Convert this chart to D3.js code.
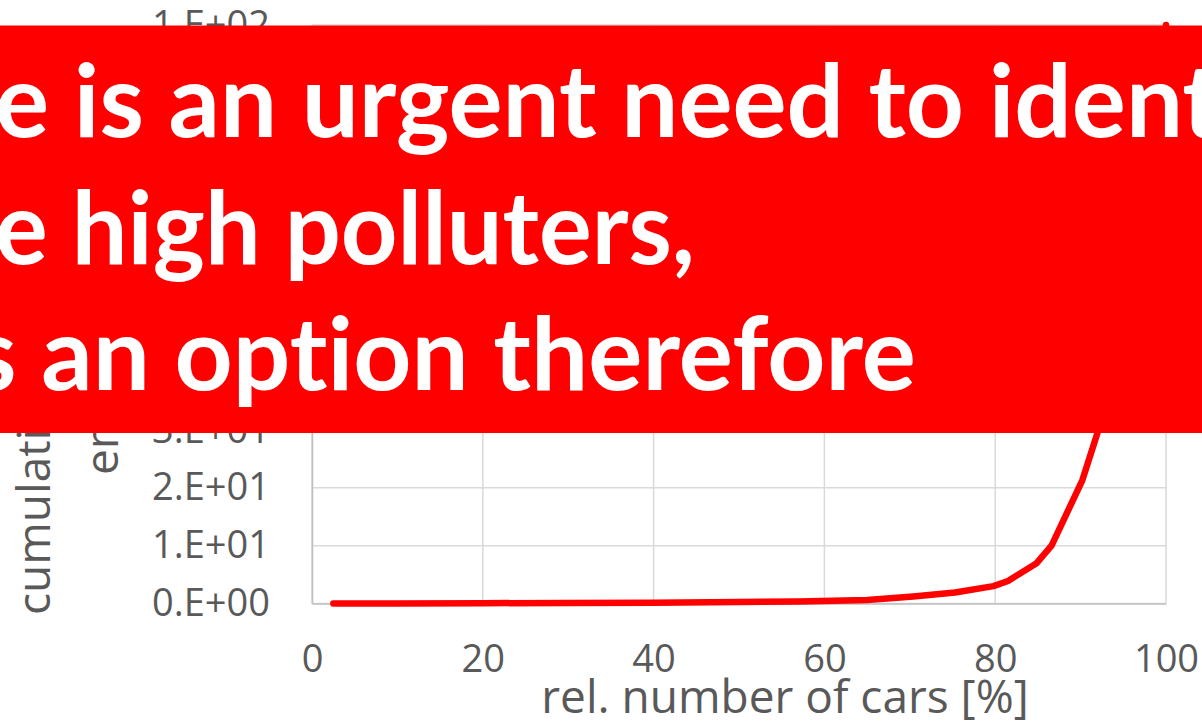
<!DOCTYPE html>
<html lang="en">
<head>
<meta charset="UTF-8">
<title>cumulative emissions</title>
<script src="https://d3js.org/d3.v7.min.js"></script>
<style>
  body { margin: 0; background: #fff; }
  svg { display: block; }
  .tick text { font-family: "Open Sans", sans-serif; fill: #595959; }
  .banner text { font-variant-ligatures: none; }
</style>
</head>
<body>
<div id="chart"></div>
<script>
// data
const carsPct = [2.5, 10, 20, 30, 40, 50, 57, 65, 70.4, 75.3, 79.8, 81.5, 84.8, 86.6, 90.2, 92.0, 94, 96, 98, 100];
const emissions = [0.0, 0.02, 0.05, 0.1, 0.15, 0.25, 0.35, 0.6, 1.2, 1.9, 3.0, 3.9, 6.9, 10.0, 21.3, 29.6, 42, 57, 75, 100];

const xTicks = [0, 20, 40, 60, 80, 100];
const yTicks = [0, 10, 20, 30, 40, 50, 60, 70, 80, 90, 100];
const yTickLabels = ["0.E+00", "1.E+01", "2.E+01", "3.E+01", "4.E+01", "5.E+01",
                     "6.E+01", "7.E+01", "8.E+01", "9.E+01", "1.E+02"];

const xTitle = "rel. number of cars [%]";
const yTitle = ["cumulative relative", "emissions [%]"];
const bannerLines = ["e is an urgent need to ident", "e high polluters,", "s an option therefore"];

const W = 1202, H = 721;
const svg = d3.select("#chart").append("svg")
    .attr("width", W)
    .attr("height", H);

const x = d3.scaleLinear().domain([0, 100]).range([312, 1166]);
const y = d3.scaleLinear().domain([0, 100]).range([603.5, 25]);

// gridlines
svg.append("g")
    .selectAll("line")
    .data(yTicks)
    .join("line")
    .attr("x1", x(0)).attr("x2", x(100))
    .attr("y1", d => y(d)).attr("y2", d => y(d))
    .attr("stroke", "#d9d9d9").attr("stroke-width", 1.5);

svg.append("g")
    .selectAll("line")
    .data(xTicks)
    .join("line")
    .attr("x1", d => x(d)).attr("x2", d => x(d))
    .attr("y1", y(0)).attr("y2", y(100))
    .attr("stroke", "#d9d9d9").attr("stroke-width", 1.5);

// axes
const xAxis = svg.append("g")
    .attr("transform", `translate(0,${y(0)})`)
    .call(d3.axisBottom(x).tickValues(xTicks).tickSize(0).tickPadding(42));
xAxis.select(".domain").attr("stroke", "#bfbfbf").attr("stroke-width", 1.5);
xAxis.selectAll("text").attr("font-size", 38);

const yAxis = svg.append("g")
    .attr("transform", `translate(${x(0)},0)`)
    .call(d3.axisLeft(y).tickValues(yTicks).tickFormat((d, i) => yTickLabels[i]).tickSize(0).tickPadding(42));
yAxis.select(".domain").attr("stroke", "#bfbfbf").attr("stroke-width", 1.5);
yAxis.selectAll("text").attr("font-size", 38);

// the curve
const line = d3.line()
    .x((d, i) => x(carsPct[i]))
    .y(d => y(d));

svg.append("path")
    .datum(emissions)
    .attr("d", line)
    .attr("fill", "none")
    .attr("stroke", "#ff0000")
    .attr("stroke-width", 6.5)
    .attr("stroke-linecap", "round")
    .attr("stroke-linejoin", "round");

// axis titles
svg.append("text")
    .attr("x", 785).attr("y", 713)
    .attr("text-anchor", "middle")
    .attr("font-family", "Open Sans, sans-serif")
    .attr("font-size", 46)
    .attr("fill", "#595959")
    .text(xTitle);

svg.append("g")
    .selectAll("text")
    .data(yTitle)
    .join("text")
    .attr("transform", (d, i) => `translate(${50 + i * 68},${i ? 475 : 615}) rotate(-90)`)
    .attr("font-family", "Open Sans, sans-serif")
    .attr("font-size", 46)
    .attr("fill", "#595959")
    .text(d => d);

// red banner over the chart
svg.append("rect")
    .attr("x", 0).attr("y", 25.5)
    .attr("width", W).attr("height", 407.5)
    .attr("fill", "#ff0000");

const bannerX = [-5, -5, -28];
const bannerLen = [1225, 700, 944];
svg.append("g")
    .attr("class", "banner")
    .selectAll("text")
    .data(bannerLines)
    .join("text")
    .attr("x", (d, i) => bannerX[i])
    .attr("y", (d, i) => 137 + i * 126.5)
    .attr("font-family", "Lato, sans-serif")
    .attr("font-weight", "bold")
    .attr("font-size", 102)
    .attr("fill", "#fff")
    .attr("textLength", (d, i) => bannerLen[i])
    .attr("lengthAdjust", "spacingAndGlyphs")
    .text(d => d);
</script>
</body>
</html>
